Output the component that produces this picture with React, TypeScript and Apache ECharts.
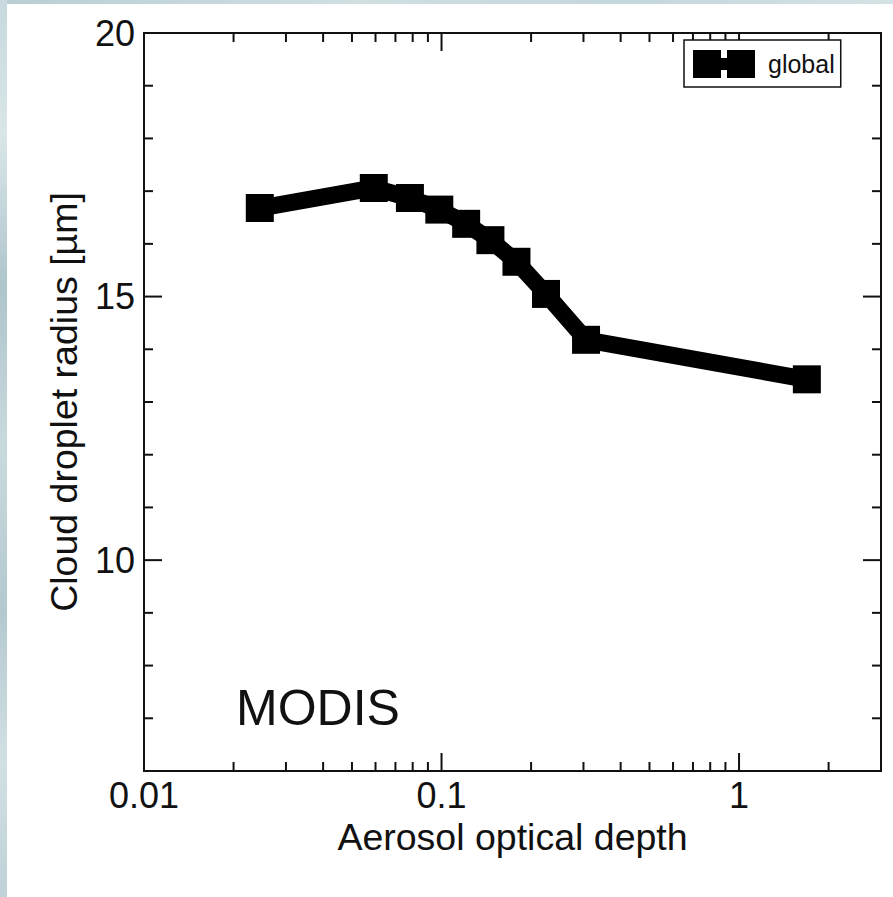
import React, { useEffect, useRef } from "react";
import * as echarts from "echarts";

const seriesName = "global";
const aodValues = [0.0245, 0.0592, 0.0783, 0.0983, 0.121, 0.146, 0.1786, 0.2245, 0.306, 1.69];
const radiusValues = [16.68, 17.06, 16.87, 16.65, 16.38, 16.07, 15.66, 15.05, 14.18, 13.43];

const xMin = 0.01;
const xMax = 3;
const yMin = 6;
const yMax = 20;
const xTickLabels = ["0.01", "0.1", "1"];
const yTickLabels = ["10", "15", "20"];
const xMajorTicks = [0.01, 0.1, 1];
const xMinorTicks = [0.02, 0.03, 0.04, 0.05, 0.06, 0.07, 0.08, 0.09, 0.2, 0.3, 0.4, 0.5, 0.6, 0.7, 0.8, 0.9, 2];
const yMajorTicks = [10, 15, 20];
const yMinorTicks = [7, 8, 9, 11, 12, 13, 14, 16, 17, 18, 19];

const xTitle = "Aerosol optical depth";
const yTitle = "Cloud droplet radius [µm]";
const panelLabel = "MODIS";

const FONT = "'Liberation Sans', Arial, Helvetica, sans-serif";

export default function App() {
  const ref = useRef<HTMLDivElement>(null);

  useEffect(() => {
    if (!ref.current) return;
    const chart = echarts.init(ref.current, null, { renderer: "svg" });

    const MAJOR = 18;
    const MINOR = 9;
    const tickStyle = { stroke: "#111", lineWidth: 2 };

    const renderTicks = (params: any, api: any) => {
      const cs = params.coordSys;
      const top = cs.y;
      const bottom = cs.y + cs.height;
      const left = cs.x;
      const right = cs.x + cs.width;
      const children: any[] = [];
      const addX = (v: number, len: number) => {
        const px = api.coord([v, yMin])[0];
        children.push({ type: "line", shape: { x1: px, y1: bottom, x2: px, y2: bottom - len }, style: tickStyle });
        children.push({ type: "line", shape: { x1: px, y1: top, x2: px, y2: top + len }, style: tickStyle });
      };
      const addY = (v: number, len: number) => {
        const py = api.coord([xMin, v])[1];
        children.push({ type: "line", shape: { x1: left, y1: py, x2: left + len, y2: py }, style: tickStyle });
        children.push({ type: "line", shape: { x1: right, y1: py, x2: right - len, y2: py }, style: tickStyle });
      };
      xMajorTicks.forEach((v) => addX(v, MAJOR));
      xMinorTicks.forEach((v) => addX(v, MINOR));
      yMajorTicks.forEach((v) => addY(v, MAJOR));
      yMinorTicks.forEach((v) => addY(v, MINOR));
      return { type: "group", children };
    };

    const option: any = {
      animation: false,
      backgroundColor: "#ffffff",
      textStyle: { fontFamily: FONT },
      grid: {
        left: 137,
        top: 29,
        right: 12,
        bottom: 126,
        show: true,
        borderColor: "#111",
        borderWidth: 2,
        backgroundColor: "transparent",
        containLabel: false,
        outerBoundsMode: "none",
      },
      legend: {
        data: [seriesName],
        left: 677,
        top: 36,
        orient: "vertical",
        backgroundColor: "#ffffff",
        borderColor: "#111",
        borderWidth: 1.5,
        borderRadius: 0,
        padding: [10, 6, 9, 9],
        itemWidth: 62,
        itemHeight: 28,
        icon: "path://M0,0H28V8H34V0H62V28H34V20H28V28H0Z",
        itemStyle: { color: "#000" },
        textStyle: { fontSize: 25, color: "#111", fontFamily: FONT, padding: [0, 0, 0, 8] },
        selectedMode: false,
      },
      graphic: [
        {
          type: "text",
          x: 229,
          y: 704,
          style: {
            text: panelLabel,
            fontSize: 50,
            fontFamily: FONT,
            fill: "#111",
            verticalAlign: "middle",
            align: "left",
          },
        },
      ],
      xAxis: {
        type: "log",
        logBase: 10,
        min: xMin,
        max: xMax,
        name: xTitle,
        nameLocation: "middle",
        nameGap: 44,
        nameTextStyle: { fontSize: 37.5, color: "#111", fontFamily: FONT },
        axisLine: { show: false },
        axisTick: { show: false },
        splitLine: { show: false },
        minorTick: { show: false },
        axisLabel: {
          fontSize: 36,
          color: "#111",
          fontFamily: FONT,
          margin: 6,
          formatter: (v: number) => {
            const s = String(+Number(v).toPrecision(3));
            return xTickLabels.includes(s) ? s : "";
          },
        },
      },
      yAxis: {
        type: "value",
        min: yMin,
        max: yMax,
        interval: 1,
        name: yTitle,
        nameLocation: "middle",
        nameRotate: 90,
        nameGap: 61,
        nameTextStyle: { fontSize: 37.5, color: "#111", fontFamily: FONT },
        axisLine: { show: false },
        axisTick: { show: false },
        splitLine: { show: false },
        axisLabel: {
          fontSize: 36,
          color: "#111",
          fontFamily: FONT,
          margin: 9,
          formatter: (v: number) => {
            const s = String(Math.round(v));
            return yTickLabels.includes(s) && Math.abs(v - Math.round(v)) < 1e-6 ? s : "";
          },
        },
      },
      series: [
        {
          type: "custom",
          name: "ticks",
          silent: true,
          coordinateSystem: "cartesian2d",
          renderItem: renderTicks,
          data: [[xMin, yMin]],
          z: 1,
        },
        {
          type: "line",
          name: seriesName,
          data: aodValues.map((x, i) => [x, radiusValues[i]]),
          symbol: "rect",
          symbolSize: 28,
          lineStyle: { color: "#000", width: 17 },
          itemStyle: { color: "#000" },
          z: 3,
        },
      ],
    };

    chart.setOption(option);
    return () => chart.dispose();
  }, []);

  return (
    <div style={{ position: "absolute", left: 0, top: 0, width: 893, height: 897, overflow: "hidden", background: "#ffffff" }}>
      <div
        style={{
          position: "absolute",
          left: 0,
          top: 0,
          width: 893,
          height: 4,
          background: "linear-gradient(90deg, #b9ced4 0%, #cfdfe2 40%, #c4d7db 70%, #d3e2e5 100%)",
        }}
      />
      <div
        style={{
          position: "absolute",
          left: 0,
          top: 0,
          width: 7,
          height: 897,
          background:
            "linear-gradient(180deg, #c7d9dd 0%, #d9e6e8 15%, #aec5cc 32%, #c9dadd 50%, #b3c9cf 68%, #d2e0e3 85%, #bfd2d7 100%)",
        }}
      />
      <div ref={ref} style={{ position: "absolute", left: 7, top: 4, width: 886, height: 893 }} />
    </div>
  );
}
